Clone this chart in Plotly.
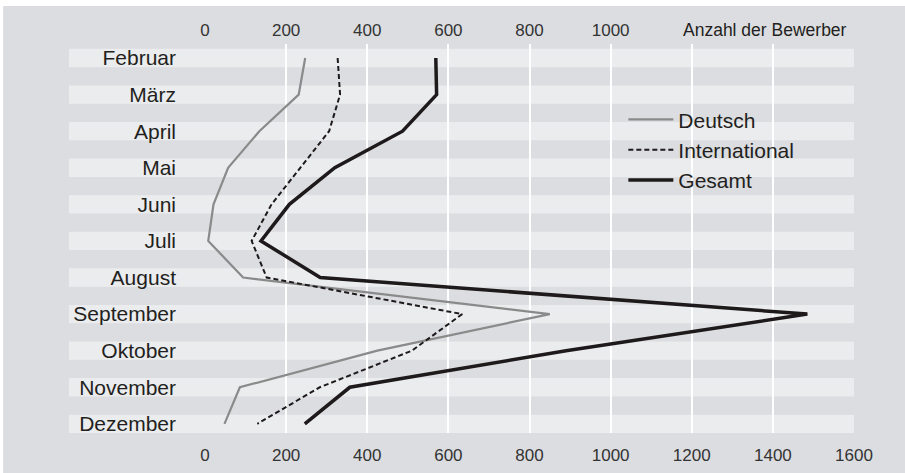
import plotly.graph_objects as go

months = ["Februar", "März", "April", "Mai", "Juni", "Juli", "August",
          "September", "Oktober", "November", "Dezember"]
deutsch = [247, 231, 134, 57, 21, 8, 94, 850, 425, 86, 48]
international = [327, 333, 306, 234, 164, 115, 152, 634, 510, 283, 129]
gesamt = [569, 571, 487, 320, 208, 138, 284, 1485, 890, 357, 246]
x_ticks = [0, 200, 400, 600, 800, 1000, 1200, 1400, 1600]
x_ticks_top = [0, 200, 400, 600, 800, 1000]
x_title = "Anzahl der Bewerber"

ypos = list(range(len(months)))

BG = "#dcdde0"
STRIPE = "#ebecee"
TXT = "#231f20"
FONT = "Liberation Sans, Arial, sans-serif"

fig = go.Figure()
fig.add_trace(go.Scatter(x=deutsch, y=ypos, mode="lines", name="Deutsch",
                         line=dict(color="#8a8a8a", width=2.2)))
fig.add_trace(go.Scatter(x=international, y=ypos, mode="lines", name="International",
                         line=dict(color="#1e1a1b", width=2, dash="5px,3px")))
fig.add_trace(go.Scatter(x=gesamt, y=ypos, mode="lines", name="Gesamt",
                         line=dict(color="#1e1a1b", width=3.5)))

shapes = [dict(type="rect", xref="paper", yref="paper", x0=-0.311, x1=1.1, y0=-0.12, y1=1.0977,
               fillcolor=BG, line=dict(width=0), layer="below")]
for i in ypos:
    shapes.append(dict(type="rect", xref="paper", yref="y", x0=-0.2096, x1=1.0,
                       y0=i - 0.25, y1=i + 0.25, fillcolor=STRIPE,
                       line=dict(width=0), layer="below"))

fig.update_layout(
    width=905, height=473,
    margin=dict(l=205, r=51, t=44, b=40),
    paper_bgcolor="white",
    plot_bgcolor="rgba(0,0,0,0)",
    shapes=shapes,
    showlegend=True,
    legend=dict(x=0.6446, y=0.858, xanchor="left", yanchor="top",
                bgcolor="rgba(0,0,0,0)", borderwidth=0,
                font=dict(family=FONT, size=21, color=TXT),
                itemwidth=45, tracegroupgap=0),
    xaxis=dict(range=[0, 1600], tickvals=x_ticks, showgrid=True, gridcolor="white",
               gridwidth=1.5, zeroline=False, showline=False, ticks="",
               ticklabelstandoff=10, automargin=False,
               tickfont=dict(family=FONT, size=17, color="#333333")),
    xaxis2=dict(range=[0, 1600], overlaying="x", side="top", anchor="y",
                tickvals=x_ticks_top, showgrid=False, zeroline=False, showline=False, ticks="",
                ticklabelstandoff=4, automargin=False,
                tickfont=dict(family=FONT, size=17, color="#333333")),
    yaxis=dict(range=[10.25, -0.383], tickvals=ypos, ticktext=months, showgrid=False,
               zeroline=False, showline=False, ticks="", ticklabelstandoff=28, automargin=False,
               tickfont=dict(family=FONT, size=21, color=TXT)),
    annotations=[dict(x=1381, y=1.0, xref="x", yref="paper", yshift=14, text=x_title,
                      showarrow=False, xanchor="center", yanchor="middle",
                      font=dict(family=FONT, size=17.5, color=TXT))],
)
# invisible trace on the top axis so it renders
fig.add_trace(go.Scatter(x=[0], y=[0], xaxis="x2", mode="markers", marker=dict(opacity=0),
                         showlegend=False, hoverinfo="skip"))

fig.write_html("out.html", config={"displayModeBar": False},
               post_script="document.body.style.margin='0';document.body.style.overflow='hidden';")
